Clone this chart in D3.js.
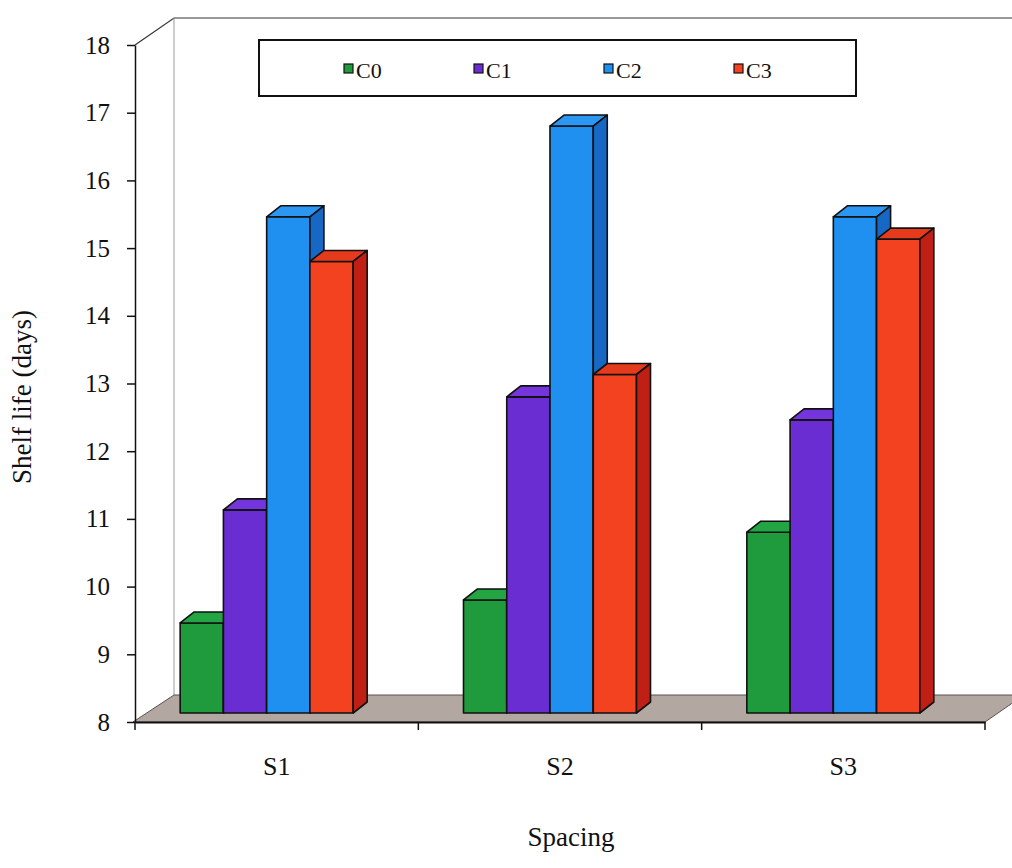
<!DOCTYPE html>
<html>
<head>
<meta charset="utf-8">
<script src="https://cdn.jsdelivr.net/npm/d3@7/dist/d3.min.js"></script>
<style>
  body { margin: 0; background: #fff; }
  text { font-family: "Liberation Serif", "Times New Roman", serif; fill: #111; }
</style>
</head>
<body>
<svg id="chart" width="1012" height="868"></svg>
<script>
// data
var categories = ["S1", "S2", "S3"];
var series = ["C0", "C1", "C2", "C3"];
var valuesC0 = [9.33, 9.67, 10.67];
var valuesC1 = [11, 12.67, 12.33];
var valuesC2 = [15.33, 16.67, 15.33];
var valuesC3 = [14.67, 13, 15];
var yTicks = [8, 9, 10, 11, 12, 13, 14, 15, 16, 17, 18];

var seriesValues = [valuesC0, valuesC1, valuesC2, valuesC3];

// front, top, side colours for each series
var colors = {
  C0: ["#1f9a3c", "#23a544", "#13702a"],
  C1: ["#6a2dd2", "#7436dc", "#4e1ea6"],
  C2: ["#1f8ff0", "#2c97f2", "#1668c4"],
  C3: ["#f2421f", "#e53b1c", "#bf1f14"]
};

var svg = d3.select("#chart");

// layout
var left = 135, right = 985, floorY = 722, topY = 45;
var depth = [39, -27];      // full depth of the floor / walls
var barShift = -9;          // bars sit a bit back on the floor
var barDepth = [14, -11];   // depth of a single bar

var y = d3.scaleLinear().domain([8, 18]).range([floorY, topY]);

var xCat = d3.scaleBand().domain(categories).range([left, right]);
var clusterW = 173;
var xSer = d3.scaleBand().domain(series).range([0, clusterW]);
var clusterOffset = (xCat.bandwidth() - clusterW) / 2 - 10;

// walls
var wall = svg.append("g");
wall.append("path")
  .attr("d", "M" + left + "," + topY + "L" + (left + depth[0]) + "," + (topY + depth[1]) +
             "L1012," + (topY + depth[1]))
  .attr("fill", "none").attr("stroke", "#333").attr("stroke-width", 1.2);
wall.append("line")
  .attr("x1", left + depth[0]).attr("x2", left + depth[0])
  .attr("y1", topY + depth[1]).attr("y2", floorY + depth[1])
  .attr("stroke", "#999").attr("stroke-width", 1);

// floor
var floorPts = [
  [left - 2, floorY],
  [right, floorY],
  [right + depth[0], floorY + depth[1]],
  [left + depth[0], floorY + depth[1]]
];
svg.append("path")
  .attr("d", d3.line()(floorPts) + "Z")
  .attr("fill", "#b2a7a1")
  .attr("stroke", "#5a524e")
  .attr("stroke-width", 1);

// y axis
var yAxis = svg.append("g")
  .attr("transform", "translate(" + left + ",0)")
  .call(d3.axisLeft(y).tickValues(yTicks).tickSize(8).tickSizeOuter(0).tickPadding(17));
yAxis.selectAll("text").style("font-size", "25px").attr("fill", "#111");
yAxis.selectAll("line, path").attr("stroke", "#111").attr("stroke-width", 1.5);

// bars
var bars = svg.append("g");
categories.forEach(function(cat, ci) {
  series.forEach(function(s, si) {
    var v = seriesValues[si][ci];
    var x0 = xCat(cat) + clusterOffset + xSer(s);
    var w = xSer.bandwidth();
    var yb = y(8) + barShift;
    var yt = y(v) + barShift;
    var g = bars.append("g")
      .attr("stroke", "#111").attr("stroke-width", 1.6).attr("stroke-linejoin", "round");
    g.append("rect")
      .attr("x", x0).attr("y", yt).attr("width", w).attr("height", yb - yt)
      .attr("fill", colors[s][0]);
    g.append("path")
      .attr("d", d3.line()([[x0, yt], [x0 + barDepth[0], yt + barDepth[1]],
                             [x0 + w + barDepth[0], yt + barDepth[1]], [x0 + w, yt]]) + "Z")
      .attr("fill", colors[s][1]);
    g.append("path")
      .attr("d", d3.line()([[x0 + w, yt], [x0 + w + barDepth[0], yt + barDepth[1]],
                             [x0 + w + barDepth[0], yb + barDepth[1]], [x0 + w, yb]]) + "Z")
      .attr("fill", colors[s][2]);
  });
});

// category axis
var xAxis = svg.append("g")
  .attr("transform", "translate(0," + floorY + ")")
  .call(d3.axisBottom(xCat).tickSize(0).tickSizeOuter(0).tickPadding(35));
xAxis.selectAll("text").style("font-size", "26px").attr("fill", "#111");
xAxis.select(".domain").attr("stroke", "#111").attr("stroke-width", 2.2);

var bounds = categories.map(function(c) { return xCat(c); }).concat([right]);
xAxis.selectAll(".bound")
  .data(bounds).enter()
  .append("line")
  .attr("class", "bound")
  .attr("x1", function(d) { return d; }).attr("x2", function(d) { return d; })
  .attr("y1", 0).attr("y2", 8)
  .attr("stroke", "#111").attr("stroke-width", 1.5);

// axis titles
svg.append("text")
  .attr("x", 571).attr("y", 846)
  .attr("text-anchor", "middle")
  .style("font-size", "27px")
  .text("Spacing");

svg.append("text")
  .attr("transform", "translate(31,397) rotate(-90)")
  .attr("text-anchor", "middle")
  .style("font-size", "27px")
  .text("Shelf life (days)");

// legend
var legend = svg.append("g");
legend.append("rect")
  .attr("x", 259).attr("y", 40).attr("width", 597).attr("height", 56)
  .attr("fill", "#fff").attr("stroke", "#111").attr("stroke-width", 2);

var items = legend.selectAll(".item")
  .data(series).enter()
  .append("g")
  .attr("class", "item")
  .attr("transform", function(d, i) { return "translate(" + (344 + i * 130) + ",0)"; });

items.append("rect")
  .attr("x", 0).attr("y", 64).attr("width", 9).attr("height", 9)
  .attr("fill", function(d) { return colors[d][0]; })
  .attr("stroke", "#111").attr("stroke-width", 1.2);

items.append("text")
  .attr("x", 12).attr("y", 78)
  .style("font-size", "22px")
  .text(function(d) { return d; });
</script>
</body>
</html>
